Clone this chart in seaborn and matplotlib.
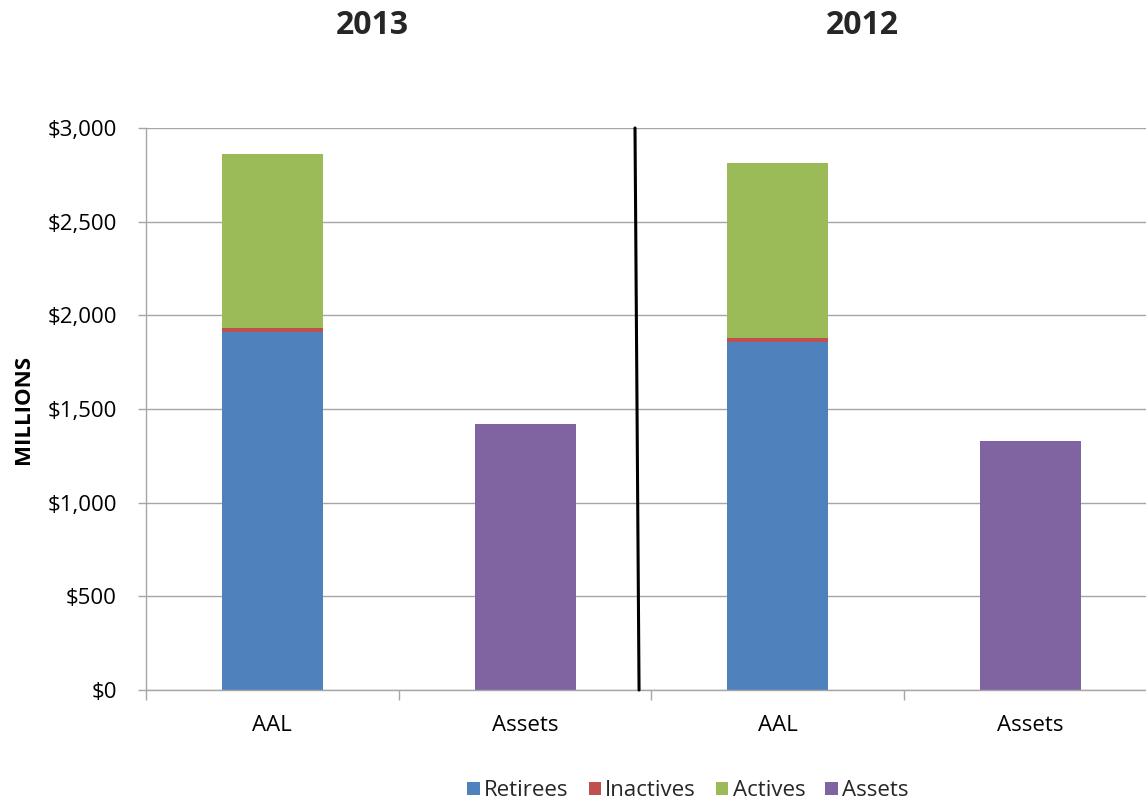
import numpy as np
import pandas as pd
import matplotlib
matplotlib.use("Agg")
import matplotlib.pyplot as plt
from matplotlib.patches import Patch
from matplotlib.ticker import FuncFormatter, FixedLocator
import seaborn as sns

# Bar positions (two panels: 2013 and 2012) and their tick labels
positions = ["AAL 2013", "Assets 2013", "AAL 2012", "Assets 2012"]
tick_labels = ["AAL", "Assets", "AAL", "Assets"]
years = ["2013", "2012"]

# Values in $ millions
retirees = [1910, 0, 1858, 0]
inactives = [21, 0, 20, 0]
actives = [930, 0, 935, 0]
assets = [0, 1418, 0, 1329]

series_names = ["Retirees", "Inactives", "Actives", "Assets"]
series_colors = ["#4F81BD", "#C0504D", "#9BBB59", "#8064A2"]

df = pd.DataFrame({
    "position": positions,
    "Retirees": retirees,
    "Inactives": inactives,
    "Actives": actives,
    "Assets": assets,
})
# cumulative heights for the stacked AAL bars
df["top_actives"] = df["Retirees"] + df["Inactives"] + df["Actives"]
df["top_inactives"] = df["Retirees"] + df["Inactives"]
df["top_retirees"] = df["Retirees"]

sns.set_theme(style="white")
font = "Open Sans"
plt.rcParams["font.family"] = [font, "DejaVu Sans"]

fig = plt.figure(figsize=(11.46, 8.01), dpi=100)
ax = fig.add_axes([146 / 1146, 111 / 801, 1000 / 1146, 562 / 801])

ax.yaxis.grid(True, color="#A6A6A6", linewidth=1.0)
ax.set_axisbelow(True)

bar_w = 0.4
layers = [("top_actives", series_colors[2]),
          ("top_inactives", series_colors[1]),
          ("top_retirees", series_colors[0]),
          ("Assets", series_colors[3])]
for col, colr in layers:
    sns.barplot(data=df, x="position", y=col, order=positions, color=colr,
                width=bar_w, saturation=1, linewidth=0, ax=ax, errorbar=None)

ax.set_ylim(0, 3000)
ax.set_xlim(-0.5, 3.457)
ax.yaxis.set_major_locator(FixedLocator(np.arange(0, 3001, 500)))
ax.yaxis.set_major_formatter(FuncFormatter(lambda v, p: f"${v:,.0f}"))
ax.set_xticks(range(len(positions)))
ax.set_xticklabels(tick_labels)
ax.xaxis.set_minor_locator(FixedLocator([-0.5, 0.5, 1.5, 2.5]))
ax.tick_params(axis="x", which="major", length=0, pad=18, labelsize=16, colors="black")
ax.tick_params(axis="x", which="minor", length=7, width=1, color="#A6A6A6", bottom=True)
ax.tick_params(axis="y", which="major", length=6, width=1, color="#A6A6A6",
               left=True, pad=15, labelsize=16, labelcolor="black")

for s in ["top", "right"]:
    ax.spines[s].set_visible(False)
for s in ["left", "bottom"]:
    ax.spines[s].set_color("#A6A6A6")
    ax.spines[s].set_linewidth(1.0)

ax.set_xlabel("")
ax.set_ylabel("MILLIONS", fontsize=16, fontweight="bold", color="black")
ax.yaxis.set_label_coords(-112 / 1000, 0.5)

# divider between the two years
ax.plot([1.435, 1.451], [3000, 0], color="black", linewidth=2.2, clip_on=False, zorder=5)

# year headings
fig.text(372 / 1146, 1 - 25 / 801, years[0], ha="center", va="center",
         fontsize=23, fontweight="bold")
fig.text(862 / 1146, 1 - 25 / 801, years[1], ha="center", va="center",
         fontsize=23, fontweight="bold")

handles = [Patch(facecolor=c, edgecolor="none") for c in series_colors]
fig.legend(handles, series_names, loc="center", bbox_to_anchor=(688 / 1146, 1 - 791 / 801),
           ncol=4, frameon=False, fontsize=16, handlelength=0.55, handleheight=0.55,
           handletextpad=0.2, columnspacing=0.9)

fig.savefig("out.png", dpi=100)
